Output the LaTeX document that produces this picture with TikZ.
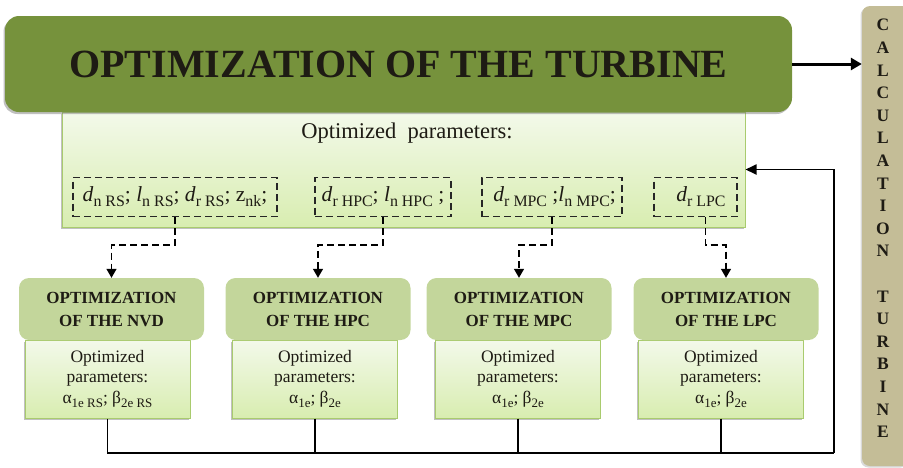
\documentclass[tikz,border=0pt]{standalone}
\usepackage{fontspec}
\setmainfont{Liberation Serif}
\usetikzlibrary{arrows.meta,shadows}

\definecolor{oliveD}{HTML}{76923C}
\definecolor{oliveL}{HTML}{C3D69B}
\definecolor{paleTop}{HTML}{F3F9EA}
\definecolor{paleBot}{HTML}{D8EDB0}
\definecolor{paleEdge}{HTML}{A9CB6E}
\definecolor{tanBar}{HTML}{C4BD97}
\definecolor{ink}{HTML}{1E1B14}

% lowered index in running text
\newcommand\lo[1]{\raisebox{-.24em}{\scalebox{.74}{#1}}}

\begin{document}
\begin{tikzpicture}[x=1pt,y=-1pt,
  softshadow/.style={drop shadow={shadow xshift=-1.5pt,shadow yshift=-2pt,opacity=.45,fill=black!55}},
  titlebox/.style={fill=oliveD,rounded corners=14pt,minimum width=787pt,minimum height=96pt,
    inner sep=0pt,text=ink,font=\fontsize{40}{44}\selectfont\bfseries,softshadow},
  parbox/.style={draw=paleEdge,line width=1pt,top color=paleTop,bottom color=paleBot,
    inner sep=0pt,softshadow},
  groupbox/.style={draw=black!85,line width=1.4pt,dash pattern=on 7pt off 4pt,
    minimum height=39pt,inner sep=0pt,text=ink,font=\fontsize{21.5}{24}\selectfont},
  headbox/.style={fill=oliveL,rounded corners=10pt,minimum width=185pt,minimum height=62pt,
    inner sep=0pt,align=center,text=ink,font=\fontsize{17}{23}\selectfont\bfseries},
  bodybox/.style={parbox,minimum width=165pt,minimum height=78pt,align=center,text=ink,
    font=\fontsize{17.5}{20.5}\selectfont},
  feed/.style={line width=1.4pt,dash pattern=on 7pt off 4pt,
    -{Triangle[length=9pt,width=10pt]}},
  bus/.style={line width=1.4pt,black},
  mainarrow/.style={line width=3pt,-{Triangle[length=11pt,width=12pt]}},
]
\useasboundingbox (0,0) rectangle (903,467);

% side bar
\node[fill=tanBar,rounded corners=8pt,minimum width=48pt,minimum height=460pt,inner sep=0pt,
  drop shadow={shadow xshift=-1.5pt,shadow yshift=-1.5pt,opacity=.3}]
  (calc) at (886,236) {};
\node[text=ink,align=center,font=\fontsize{17.5}{22.6}\selectfont\bfseries] (calctext) at (883,228.5)
  {C\\A\\L\\C\\U\\L\\A\\T\\I\\O\\N\\[22.6pt]T\\U\\R\\B\\I\\N\\E};

% parameter panel and title
\node[parbox,minimum width=683pt,minimum height=115pt] (panel) at (403.5,169.5) {};
\node[titlebox] (title) at (398.5,64) {OPTIMIZATION OF THE TURBINE};
\node[text=ink,font=\fontsize{22.5}{25}\selectfont] (ptext) at (407,133) {Optimized\ \ parameters:};

% parameter groups
\node[groupbox,minimum width=204pt] (g1) at (175,197)
  {\textit{d}\lo{n RS}; \textit{l}\lo{n RS}; \textit{d}\lo{r RS}; z\lo{nk};};
\node[groupbox,minimum width=136pt] (g2) at (383,197)
  {\textit{d}\lo{r HPC}; \textit{l}\lo{n HPC} ;};
\node[groupbox,minimum width=140pt] (g3) at (552,197)
  {\ \textit{d}\lo{r MPC} ;\textit{l}\lo{n MPC};};
\node[groupbox,minimum width=83pt] (g4) at (695.5,197)
  {\ \ \textit{d}\lo{r LPC}};

% component blocks
\foreach \nm/\cx/\bx/\lab/\res in {1/111.5/107.5/NVD/{α\lo{1e RS}; β\lo{2e RS}},
                                   2/318/315/HPC/{α\lo{1e}; β\lo{2e}},
                                   3/519/518/MPC/{α\lo{1e}; β\lo{2e}},
                                   4/726/721/LPC/{α\lo{1e}; β\lo{2e}}}{
  \node[bodybox] (b\nm) at (\bx,379) {Optimized\\parameters:\\\res};
  \node[headbox] (h\nm) at (\cx,309) {OPTIMIZATION\\OF THE \lab};
}

% feeds from the groups to the blocks
\draw[feed] (g1.south) |- (111.5,245) -- (h1.north);
\draw[feed] (g2.south) |- (318,245) -- (h2.north);
\draw[feed] (g3.south) |- (519,245) -- (h3.north);
\draw[feed] ([xshift=10pt]g4.south) |- (726,245) -- (h4.north);

% results collected and returned to the panel
\coordinate (ret) at (834,453);
\draw[bus] (b1.south) |- (ret);
\draw[bus] (b2.south) -- (b2.south |- ret);
\draw[bus] (b3.south) -- (b3.south |- ret);
\draw[bus] (b4.south) -- (b4.south |- ret);
\draw[line width=1.8pt,-{Triangle[length=11pt,width=10pt]}] (ret) |- (panel.east);

% title to side bar
\draw[mainarrow] (title.east) -- (calc.west |- title.east);
\end{tikzpicture}
\end{document}
